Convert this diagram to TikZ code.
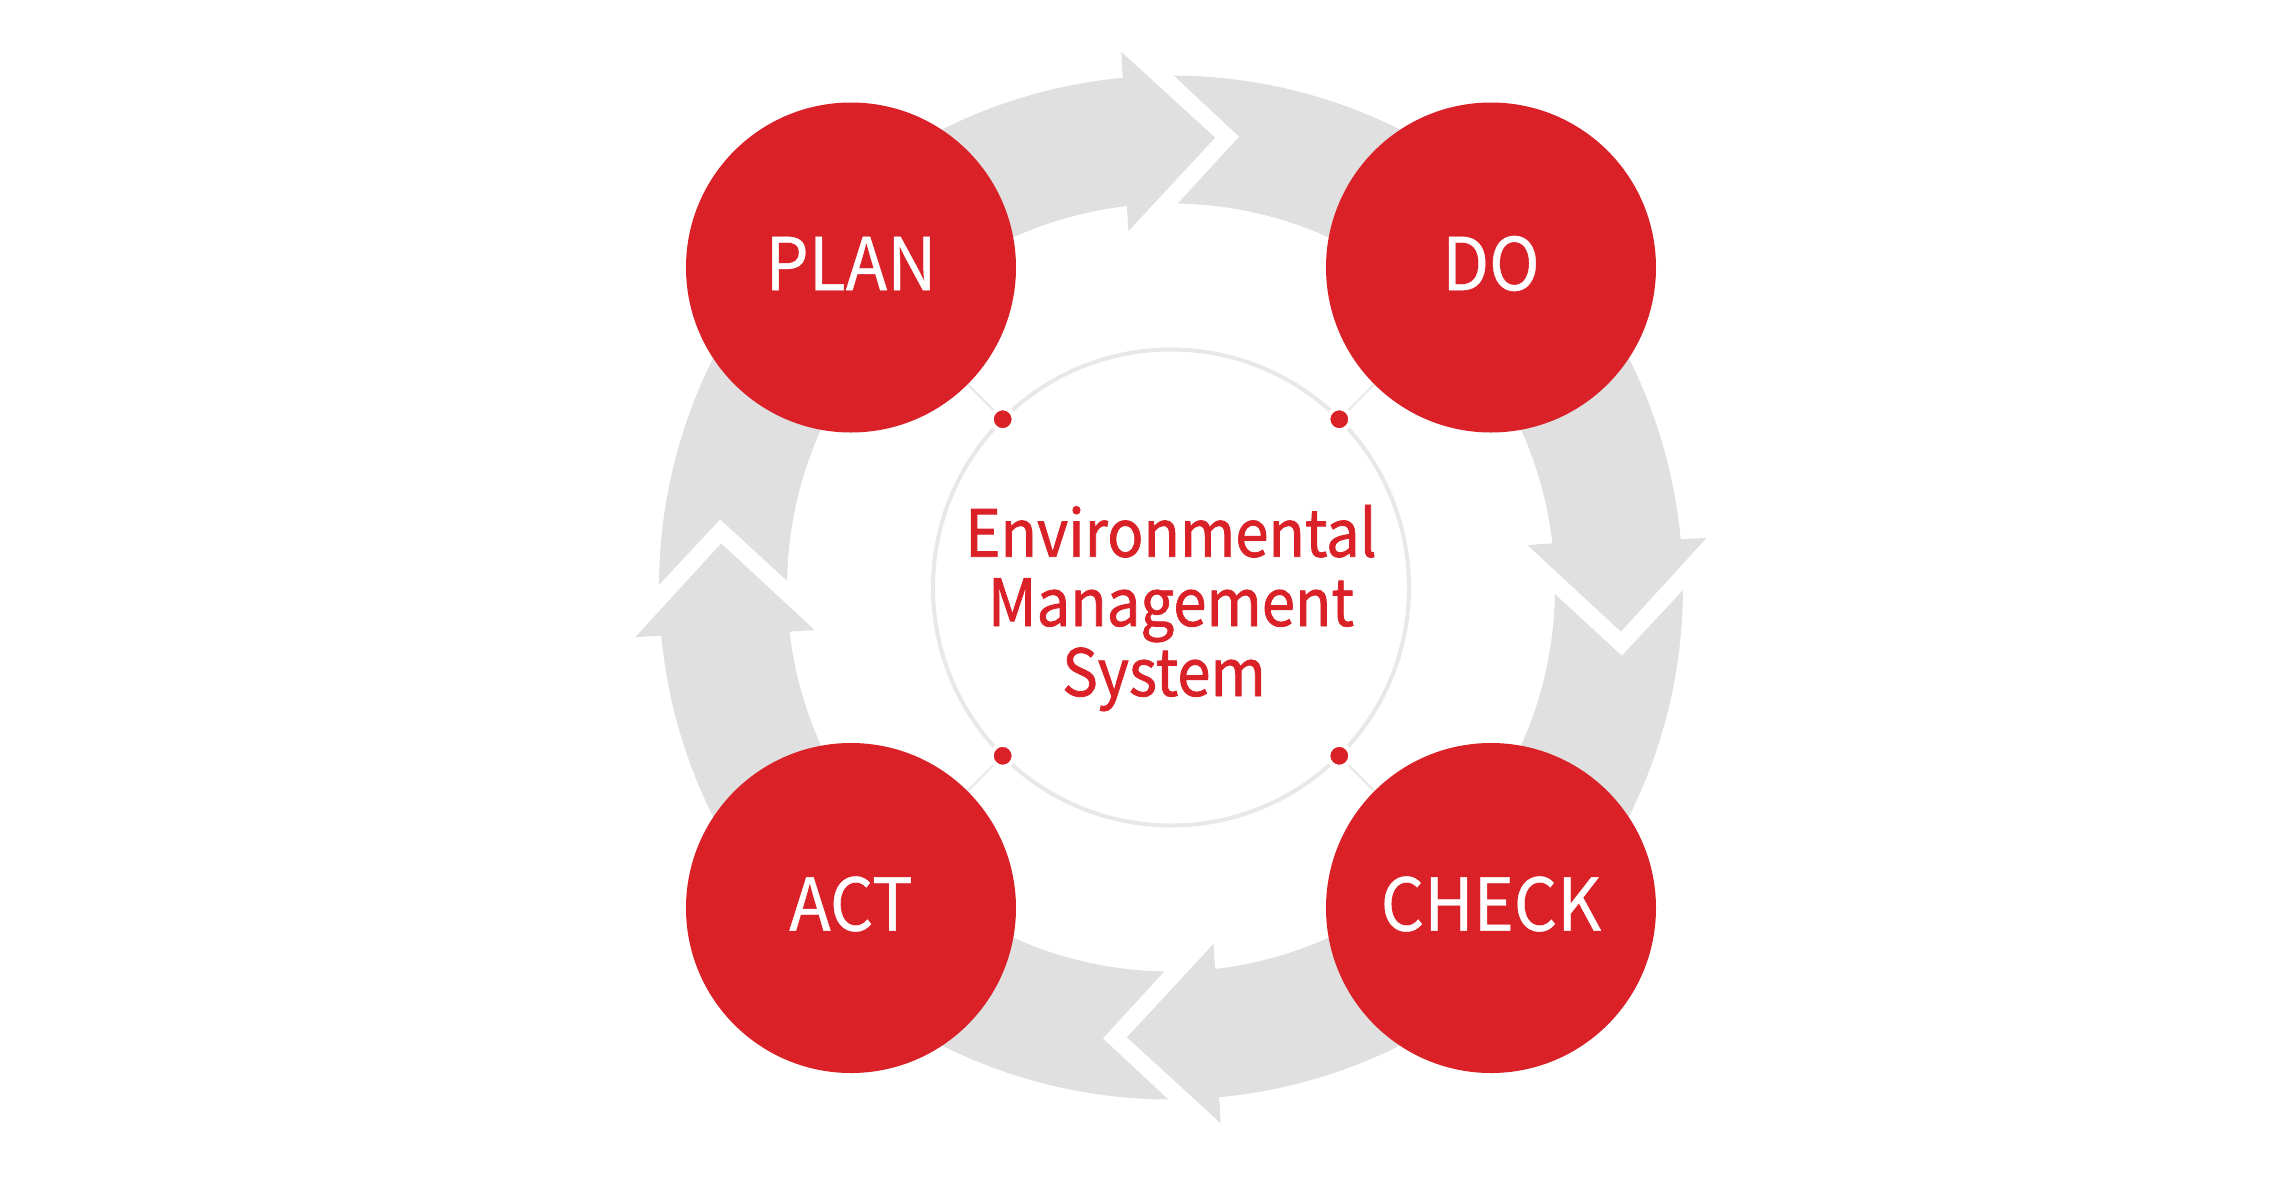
\documentclass[tikz,border=0pt]{standalone}
\usepackage{fontspec}
\newfontfamily\hfont[FakeStretch=0.92,FakeBold=1.2]{Noto Sans CJK KR}
\newfontfamily\sfont[FakeStretch=0.935,FakeBold=0.6]{Noto Sans CJK KR}
\definecolor{emsred}{RGB}{218,33,40}
\definecolor{arrowgray}{RGB}{224,224,224}
\definecolor{ringgray}{RGB}{232,232,232}
\begin{document}
\begin{tikzpicture}[x=0.5pt,y=0.5pt,
  stage/.style={circle,fill=emsred,draw=none,minimum size=165pt,inner sep=0pt},
  stagetext/.style={text=white,font=\sfont\fontsize{36.4}{40}\selectfont,inner sep=0pt},
  coretext/.style={text=emsred,font=\hfont\fontsize{32.5}{35}\selectfont,inner sep=0pt,anchor=base},
  dotmark/.style={circle,fill=emsred,draw=white,line width=2pt,minimum size=11pt,inner sep=0pt},
  link/.style={draw=ringgray,line width=1pt},
  ring/.style={circle,draw=ringgray,line width=2pt,minimum size=238pt,inner sep=0pt}]
\fill[white] (-1171,-592.5) rectangle (1109,587.5);
\useasboundingbox (-1171,-592.5) rectangle (1109,587.5);
% cycle arrows
\foreach \t in {180,90,0,-90}{
  \fill[arrowgray] (\t-0.3:512) arc[start angle=\t-0.3,end angle=\t-84.6,radius=512]
    -- (\t-84.7:538) -- (\t-95.6:452) -- (\t-83.2:359) -- (\t-83.4:384)
    arc[start angle=\t-83.4,end angle=\t-1,radius=384]
    -- (\t-8.6:456) -- cycle;
}
% core
\node[ring] (core) at (0,0) {};
\node[dotmark] (dpl) at (135:238) {};
\node[dotmark] (ddo) at (45:238) {};
\node[dotmark] (dch) at (-45:238) {};
\node[dotmark] (dac) at (-135:238) {};
% stages
\node[stage] (plan) at (-320,320) {};
\node[stage] (do) at (320,320) {};
\node[stage] (check) at (320,-320.5) {};
\node[stage] (act) at (-320,-320.5) {};
\draw[link] (dpl) -- (plan);
\draw[link] (ddo) -- (do);
\draw[link] (dch) -- (check);
\draw[link] (dac) -- (act);
\node[stagetext] (plant) at (-320,324) {PLAN};
\node[stagetext] (dot) at (320,324) {DO};
\node[stagetext] (checkt) at (320,-316.5) {CHECK};
\node[stagetext] (actt) at (-320,-316.5) {ACT};
\node[coretext] (l1) at (0,30.8) {Environmental};
\node[coretext] (l2) at (0,-38.5) {Management};
\node[coretext] (l3) at (-7,-108.5) {System};
\end{tikzpicture}
\end{document}
